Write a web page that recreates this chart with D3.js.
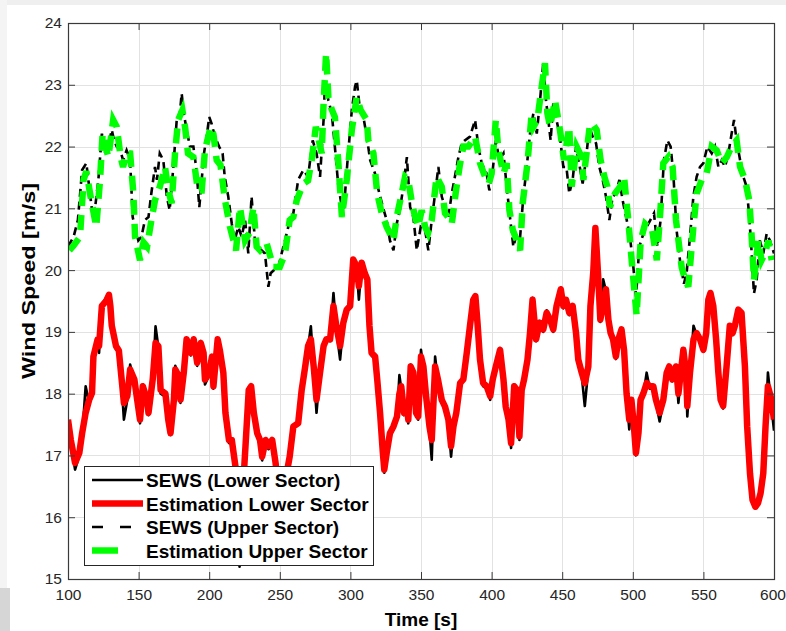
<!DOCTYPE html>
<html>
<head>
<meta charset="utf-8">
<script src="https://cdn.jsdelivr.net/npm/d3@7"></script>
<style>
  html, body { margin: 0; padding: 0; background: #fff; }
  svg { display: block; }
</style>
</head>
<body>
<svg id="chart" width="786" height="631"></svg>
<script>
// ---- Lower sector: time [s], measured SEWS and its estimate [m/s] ----
const lowerTime = [
  100,102,105,108,110,112.5,115,117,118,121,
  122,124,127,129,130,131,134,136,138,139.6,
  142,144,147,149,151,153,156,157,160,162,
  164,165.6,169,171,172.6,175,176,178.5,179.7,182,
  184,187,189,191.5,194,196,197,200,202,203,
  206,207.5,210,211.5,214,216,218.6,220,221.5,223.5,
  225.7,228,229.7,231.6,234,236,237.5,240,242,244.6,
  247,249,251.5,254,257,259.6,263,265.5,268,270,
  272,274,276,278.5,281,283,285.6,288,290,292.7,
  295,297.4,299.8,302,304.5,306,308,310,312,313.5,
  315,317.5,319,321,323,324,325.7,328,330.5,333,
  334.7,336,338,340,341,342.7,344.6,346.5,348,350,
  351.7,353.6,356,357.6,360,362,364.7,367,369.4,371.3,
  373,375,377.7,380,382.4,384.7,387,388.5,390,391.8,
  394,396.5,399,400.8,403,406,408.4,410,412,413.8,
  416,418,419.7,421.3,423,425.4,427.2,429,431.5,434,
  436.6,439,441.4,443.7,446,449,450.8,452.7,455,457.4,
  459.8,461.4,463.8,466,468.5,470,472,473.5,475.6,477,
  479,481,482.7,484.3,486,488,489.8,492,493.8,495.6,
  497.5,499,500.8,502.2,504,505.5,507.4,509.8,512,514.5,
  516.4,519,521.6,524,525.8,528,530.6,532.3,534,535.8,
  537.7,538.6,540.5,543,545.2,547.6,550,552,553.5,555,
  557,559,560.6,562.2,564,566.4,568.7,570.7,572.3,574.7,
  577,579.4,581,583,584.8,586.8,588.7,590.5,592.4,594,
  595.7,597.6,600
];
const lowerSews = [
  17.55,17.2,16.77,17.0,17.3,18.12,17.85,17.95,18.55,18.85,
  18.66,19.45,19.55,19.55,19.4,19.05,18.72,18.66,18.15,17.58,
  17.9,18.47,18.18,17.85,17.52,18.15,17.85,17.65,18.2,19.09,
  18.75,18.0,17.95,17.55,17.33,17.85,18.45,18.25,17.85,18.3,
  18.9,18.62,18.85,18.45,18.85,18.62,18.15,18.3,18.62,18.08,
  18.85,18.68,18.3,17.62,17.2,17.2,16.75,15.9,15.2,16.1,
  17.1,18.1,18.1,17.65,17.3,17.2,16.92,17.2,17.1,17.2,
  16.8,16.45,16.25,16.55,16.92,17.42,17.55,18.1,18.4,18.75,
  19.09,18.4,17.69,18.38,18.8,18.9,18.85,19.63,19.05,18.55,
  19.12,19.33,19.4,20.15,20.02,19.52,20.1,19.92,19.8,19.05,
  18.62,18.55,18.18,17.65,16.98,16.72,17.0,17.33,17.42,17.6,
  18.3,18.08,17.65,17.75,17.52,18.47,18.3,17.65,17.58,18.71,
  18.4,17.92,17.42,16.93,18.6,18.2,17.85,17.75,17.52,16.98,
  17.42,17.65,18.2,18.28,18.7,19.12,19.55,19.55,19.1,18.5,
  18.12,18.08,17.9,18.2,18.4,18.74,18.18,17.75,17.52,17.12,
  18.15,18.02,17.25,18.02,18.2,18.58,19.02,19.55,18.85,19.12,
  19.0,19.35,19.16,19.0,19.45,19.66,19.38,19.5,19.27,19.4,
  18.94,18.5,18.3,17.8,18.4,19.4,19.94,20.64,19.82,19.16,
  19.85,19.66,19.16,18.94,18.85,18.56,18.85,19.0,18.68,17.96,
  17.42,17.85,17.42,17.0,17.32,17.86,17.96,18.34,18.08,18.08,
  17.86,17.55,17.86,18.3,18.4,18.2,18.4,17.85,18.3,18.68,
  18.3,17.63,18.3,19.1,18.95,18.85,18.68,18.95,19.5,19.6,
  19.4,18.85,18.3,17.86,17.76,18.4,19.06,18.95,19.06,19.33,
  19.28,18.4,17.42,16.66,16.24,16.14,16.2,16.36,16.68,17.42,
  18.34,17.92,17.4
];
const lowerEst = [
  17.58,17.25,16.88,17.04,17.36,17.69,17.9,18.01,18.6,18.88,
  18.77,19.42,19.5,19.6,19.42,19.1,18.77,18.7,18.23,17.85,
  17.96,18.39,18.23,17.9,17.58,18.12,17.9,17.69,18.23,18.82,
  18.77,18.06,18.0,17.58,17.36,17.9,18.39,18.28,17.9,18.34,
  18.88,18.66,18.88,18.5,18.82,18.66,18.23,18.34,18.6,18.12,
  18.88,18.71,18.34,17.69,17.25,17.25,16.82,16.2,15.5,16.3,
  17.15,18.06,18.12,17.69,17.36,17.25,16.98,17.25,17.15,17.25,
  16.88,16.5,16.3,16.6,16.98,17.47,17.52,18.06,18.44,18.77,
  18.88,18.44,17.9,18.34,18.77,18.88,18.88,19.42,19.1,18.77,
  19.15,19.36,19.42,20.17,20.06,19.74,20.12,19.96,19.85,19.1,
  18.66,18.6,18.23,17.69,17.04,16.77,17.04,17.36,17.47,17.63,
  18.0,18.12,17.69,17.79,17.58,18.44,18.34,17.69,17.63,18.6,
  18.44,17.96,17.47,17.25,18.44,18.23,17.9,17.79,17.58,17.15,
  17.47,17.69,18.17,18.23,18.66,19.1,19.52,19.58,19.15,18.55,
  18.17,18.12,17.96,18.23,18.44,18.71,18.23,17.79,17.58,17.2,
  18.12,18.06,17.31,18.06,18.23,18.55,18.98,19.52,18.88,19.15,
  19.04,19.31,19.2,19.04,19.42,19.69,19.42,19.52,19.31,19.42,
  18.98,18.55,18.34,18.17,18.44,19.42,19.96,20.68,19.85,19.2,
  19.42,19.69,19.2,18.98,18.88,18.6,18.88,19.04,18.71,18.0,
  17.58,17.9,17.47,17.04,17.36,17.9,18.0,18.17,18.12,18.12,
  17.9,17.69,17.9,18.34,18.44,18.23,18.44,18.0,18.34,18.71,
  18.34,17.8,18.34,18.88,18.98,18.88,18.71,18.98,19.52,19.63,
  19.42,18.88,18.34,17.9,17.8,18.44,19.1,18.98,19.1,19.36,
  19.31,18.44,17.47,16.71,16.28,16.17,16.23,16.39,16.71,17.47,
  18.12,17.96,17.58
];

// ---- Upper sector: measured SEWS ----
const upperTime = [
  100,104,107,110,113,117,119,121.5,124,126,
  128.5,131,132.6,134.5,137,139,141.5,144,145.8,147.4,
  149.8,152,154.5,157,159,161.6,163,165,167.5,170,
  172,174.6,177,178.8,180.5,182,184,186.4,188.8,191,
  193,194.7,196.3,198.2,200,201.7,204,207,209.5,211,
  213.5,216,218,220.6,223,225.4,227.7,230,232.4,234.8,
  237,239.5,241.9,243.5,245.9,249,251.3,253.7,256,259.6,
  263,266.7,270,273.3,276,278.5,281,282,284.4,286.8,
  289,291.5,294,295.5,298,301,303.3,304.5,306.8,309.2,
  311.6,314,317.5,320,323,325.7,328,330.5,332.8,335,
  337.5,340,342.3,344.6,347,349.8,352.9,355.2,357.6,360,
  362.3,364.7,367,369.4,371.8,374,376.5,378.8,381,384.7,
  388.3,390.6,393,396.5,398.4,400.8,403,405.5,408.4,410.7,
  413,415.4,417.8,420.2,422.5,424.9,427.2,429.6,432,434.3,
  436.6,438.5,440.2,441.8,443.7,446,448.4,450.8,453,455,
  457.4,459.8,462,464.5,466.8,469.2,471.6,474,476.3,478.7,
  481,483.4,485.7,488,490.5,492.8,495.7,498,500.4,502.3,
  504.6,507.5,511,515,517.4,519.7,522,524.5,526.8,528.7,
  531,533.4,536.2,538.1,540.5,542.9,545.2,547.6,550,552.8,
  555.9,558.2,560.6,563,565.3,567.7,570,571.7,573.5,576,
  578.3,580.6,582.5,584.2,585.8,587.7,590,592.4,594.8,597.1,
  600
];
const upperSews = [
  20.38,20.54,20.81,21.62,21.73,20.97,20.97,21.46,22.21,21.89,
  22.0,22.27,22.1,22.0,21.94,21.78,21.94,21.78,20.86,20.7,
  20.48,20.54,20.81,20.86,21.24,21.67,21.46,21.89,21.78,21.19,
  20.97,21.67,22.43,22.43,22.86,22.54,22.27,22.0,22.0,21.62,
  21.02,21.46,21.89,22.16,22.48,22.37,22.16,22.0,21.89,21.51,
  21.19,20.75,20.48,20.7,20.54,20.81,20.27,21.19,20.48,20.38,
  20.32,20.27,19.73,19.95,20.0,20.05,20.27,20.48,20.7,20.92,
  21.46,21.62,21.51,22.1,21.89,21.51,22.43,23.02,22.75,22.54,
  22.0,21.35,21.02,21.02,21.78,22.59,22.97,23.07,22.59,22.48,
  22.16,21.78,21.56,21.29,21.02,20.81,20.48,20.32,20.75,20.97,
  21.35,21.83,21.02,20.86,20.32,20.7,20.65,20.32,20.81,21.24,
  21.67,21.19,21.02,20.86,21.24,21.51,21.83,22.05,22.1,22.16,
  22.43,22.0,21.73,21.56,21.29,21.62,22.1,21.78,21.89,21.35,
  20.86,20.38,20.59,20.54,21.19,21.67,22.21,22.54,22.21,22.75,
  23.35,22.75,22.43,22.1,22.7,22.43,22.16,21.67,21.67,21.24,
  21.46,22.0,21.73,21.4,21.78,22.32,22.16,22.05,21.67,21.46,
  21.19,20.81,21.19,21.24,21.46,21.13,20.81,20.54,20.05,19.57,
  20.38,20.59,20.75,20.92,20.38,20.81,21.78,22.1,22.0,21.56,
  20.65,20.16,19.78,19.95,20.54,21.19,21.51,21.67,21.73,22.0,
  21.89,22.0,21.67,21.78,21.67,21.89,22.21,22.43,22.1,21.78,
  21.51,21.35,20.86,20.27,19.62,19.84,20.48,20.27,20.59,20.48,
  20.27
];

// ---- Upper sector: estimate ----
const upperEstTime = [
  101,104,108.5,111,113,116,120,122.7,124.5,126.5,
  128.6,132,134.5,137.3,139,141.5,144,146.3,147.5,151,
  153.5,156,159,161.6,165,168.7,171,173.4,175.8,178,
  181,183,185,188.8,192,194.7,197,201,203,205.3,
  208,211.2,214.7,219,221.8,225.4,228.5,231.3,233.6,236,
  240.7,245.4,250,253.7,257,259.6,262,266.7,270,272.6,
  275.5,279.7,281,282.8,284.4,286.8,289,291.5,294,297.4,
  301,304.5,307.3,311.6,312.7,316.3,319,322.2,325.7,330.5,
  332.8,336,338.7,341,343.5,345.8,348,350.5,352.9,355,
  357.6,361,364.7,367,369.5,371.8,374.8,377.5,380,383.6,
  388.3,391.8,395.4,398,400,403,404.8,408.4,410.7,412.6,
  415,417.5,420.2,422,425.4,428.4,429.6,432.4,435.5,437.8,
  439.5,441.4,444.9,448.4,451.3,455,456.7,460.2,463.8,465,
  467.8,469.7,472,474.4,477.2,480,482,483.8,487.4,491,
  493.8,496.8,499.2,501,502.7,505.6,508.7,511,513.4,517,
  519.7,521.6,525.2,528.2,530.6,534.6,537,539.3,542.9,545.2,
  548.8,552.3,555.9,559.4,563,566.6,570,573.5,576,579.5,
  582.5,584.2,585.8,588.9,591.2,593.6,596,598.4
];
const upperEst = [
  20.32,20.4,20.54,21.46,21.6,21.19,20.7,21.46,22.21,22.0,
  21.83,22.43,22.32,21.83,21.67,21.9,21.89,21.24,20.54,20.16,
  20.45,20.38,20.8,21.13,21.35,21.67,21.3,21.08,21.89,22.43,
  22.59,22.3,21.89,21.83,21.29,21.29,21.94,22.32,22.2,21.78,
  21.7,21.13,20.7,20.32,21.02,20.48,20.6,21.02,20.38,20.32,
  20.43,20.05,20.05,20.27,20.81,20.86,21.13,21.4,21.45,21.78,
  22.32,21.89,22.7,23.51,22.8,22.6,22.48,21.73,20.86,21.46,
  22.27,22.8,22.59,22.43,22.1,21.89,21.24,20.92,20.7,20.48,
  20.86,21.2,21.51,21.46,21.1,20.86,20.7,20.97,20.7,20.6,
  20.81,21.51,21.35,20.92,20.85,20.75,21.29,21.7,22.0,22.0,
  22.16,21.73,21.51,21.4,21.56,22.43,21.94,21.56,21.73,20.97,
  20.65,20.5,20.32,21.08,21.73,22.54,22.32,22.43,22.97,23.35,
  22.54,22.32,22.75,22.27,21.78,22.32,21.35,22.0,21.83,21.46,
  22.0,22.37,22.35,22.27,21.78,21.5,21.35,21.02,21.24,21.35,
  21.51,20.81,20.16,19.7,19.27,20.48,20.75,20.7,20.7,20.16,
  21.02,21.73,21.83,21.67,20.81,20.05,19.85,19.73,20.7,21.24,
  21.46,21.56,22.0,21.94,21.73,21.83,22.0,22.1,21.67,21.46,
  21.13,20.54,19.84,20.48,20.16,20.27,20.48,20.16
];

// ---- Axes ----
const xTicks = [100,150,200,250,300,350,400,450,500,550,600];
const yTicks = [15,16,17,18,19,20,21,22,23,24];
const xTitle = "Time [s]";
const yTitle = "Wind Speed [m/s]";
const legendLabels = [
  "SEWS (Lower Sector)",
  "Estimation Lower Sector",
  "SEWS (Upper Sector)",
  "Estimation Upper Sector"
];

const FONT = "'Liberation Sans', Arial, Helvetica, sans-serif";
const svg = d3.select("#chart");
const plot = { left: 68, right: 774, top: 23, bottom: 579 };

const x = d3.scaleLinear().domain([100, 600]).range([plot.left, plot.right]);
const y = d3.scaleLinear().domain([15, 24]).range([plot.bottom, plot.top]);

// page background with the faint frame along the top and left edges
svg.append("rect").attr("width", 786).attr("height", 631).attr("fill", "#ffffff");
svg.append("rect").attr("x", 0).attr("y", 0).attr("width", 786).attr("height", 5).attr("fill", "#efefef");
svg.append("rect").attr("x", 0).attr("y", 0).attr("width", 7).attr("height", 631).attr("fill", "#f4f4f4");
svg.append("rect").attr("x", 0).attr("y", 588).attr("width", 10).attr("height", 43).attr("fill", "#d6d6d6");

// grid
const grid = svg.append("g").attr("stroke", "#e2e2e2").attr("stroke-width", 1);
grid.selectAll("line.gx").data(xTicks.slice(1, -1)).join("line")
  .attr("x1", d => Math.round(x(d)) + 0.5).attr("x2", d => Math.round(x(d)) + 0.5)
  .attr("y1", plot.top).attr("y2", plot.bottom);
grid.selectAll("line.gy").data(yTicks.slice(1, -1)).join("line")
  .attr("y1", d => Math.round(y(d)) + 0.5).attr("y2", d => Math.round(y(d)) + 0.5)
  .attr("x1", plot.left).attr("x2", plot.right);

// data lines, clipped to the axes box
svg.append("clipPath").attr("id", "clip").append("rect")
  .attr("x", plot.left).attr("y", plot.top)
  .attr("width", plot.right - plot.left).attr("height", plot.bottom - plot.top);
const lines = svg.append("g").attr("clip-path", "url(#clip)");

function series(times, values) {
  return times.map((t, i) => [t, values[i]]).filter(d => d[1] != null);
}
const lineGen = d3.line().x(d => x(d[0])).y(d => y(d[1]));

lines.append("path").datum(series(lowerTime, lowerSews))
  .attr("d", lineGen).attr("fill", "none").attr("stroke", "#000")
  .attr("stroke-width", 2.6).attr("stroke-linejoin", "round");
lines.append("path").datum(series(lowerTime, lowerEst))
  .attr("d", lineGen).attr("fill", "none").attr("stroke", "#ff0000")
  .attr("stroke-width", 6.5).attr("stroke-linejoin", "round");
lines.append("path").datum(series(upperTime, upperSews))
  .attr("d", lineGen).attr("fill", "none").attr("stroke", "#000")
  .attr("stroke-width", 2.6).attr("stroke-dasharray", "8,5");
lines.append("path").datum(series(upperEstTime, upperEst))
  .attr("d", lineGen).attr("fill", "none").attr("stroke", "#00ff00")
  .attr("stroke-width", 6.5).attr("stroke-dasharray", "15,9");

// axes with inward ticks on all four sides
function styleAxis(g) {
  g.select(".domain").remove();
  g.selectAll(".tick line").attr("stroke", "#3a3a3a").attr("stroke-width", 1);
  g.selectAll(".tick text").attr("fill", "#262626")
    .style("font-family", FONT).style("font-size", "15.5px");
}
const xAxisG = svg.append("g").attr("transform", `translate(0,${plot.bottom})`)
  .call(d3.axisBottom(x).tickValues(xTicks).tickSize(-7).tickPadding(10).tickFormat(d3.format("d")))
  .call(styleAxis);
// the last label sits right at the page edge; keep it fully inside
xAxisG.selectAll(".tick text").filter(d => d === 600).attr("dx", "-1.5");
svg.append("g").attr("transform", `translate(0,${plot.top})`)
  .call(d3.axisTop(x).tickValues(xTicks).tickSize(-7).tickFormat(""))
  .call(styleAxis);
svg.append("g").attr("transform", `translate(${plot.left},0)`)
  .call(d3.axisLeft(y).tickValues(yTicks).tickSize(-7).tickPadding(6).tickFormat(d3.format("d")))
  .call(styleAxis);
svg.append("g").attr("transform", `translate(${plot.right},0)`)
  .call(d3.axisRight(y).tickValues(yTicks).tickSize(-7).tickFormat(""))
  .call(styleAxis);

// axes box
svg.append("rect")
  .attr("x", plot.left + 0.5).attr("y", plot.top + 0.5)
  .attr("width", plot.right - plot.left).attr("height", plot.bottom - plot.top)
  .attr("fill", "none").attr("stroke", "#3a3a3a").attr("stroke-width", 1.2);

// axis titles
svg.append("text").attr("x", (plot.left + plot.right) / 2).attr("y", 626)
  .attr("text-anchor", "middle").attr("fill", "#000")
  .style("font-family", FONT).style("font-size", "19px").style("font-weight", "bold")
  .text(xTitle);
svg.append("text").attr("transform", "translate(35,281) rotate(-90)")
  .attr("text-anchor", "middle").attr("fill", "#000")
  .attr("textLength", 196).attr("lengthAdjust", "spacingAndGlyphs")
  .style("font-family", FONT).style("font-size", "19px").style("font-weight", "bold")
  .text(yTitle);

// legend
const legend = svg.append("g");
legend.append("rect").attr("x", 84.5).attr("y", 466.5).attr("width", 289).attr("height", 99)
  .attr("fill", "#fff").attr("stroke", "#262626").attr("stroke-width", 1);
const legendStyles = [
  { stroke: "#000", width: 2.6, dash: null },
  { stroke: "#ff0000", width: 6.5, dash: null },
  { stroke: "#000", width: 2.6, dash: "11,17" },
  { stroke: "#00ff00", width: 6.5, dash: "26,40" }
];
const rowY = [480, 503.5, 527, 550.5];
legendLabels.forEach((label, i) => {
  const s = legendStyles[i];
  const ln = legend.append("line").attr("x1", 92).attr("x2", 143)
    .attr("y1", rowY[i]).attr("y2", rowY[i])
    .attr("stroke", s.stroke).attr("stroke-width", s.width);
  if (s.dash) ln.attr("stroke-dasharray", s.dash);
  legend.append("text").attr("x", 146).attr("y", rowY[i] + 7)
    .attr("fill", "#000")
    .style("font-family", FONT).style("font-size", "19px").style("font-weight", "bold")
    .text(label);
});
</script>
</body>
</html>
